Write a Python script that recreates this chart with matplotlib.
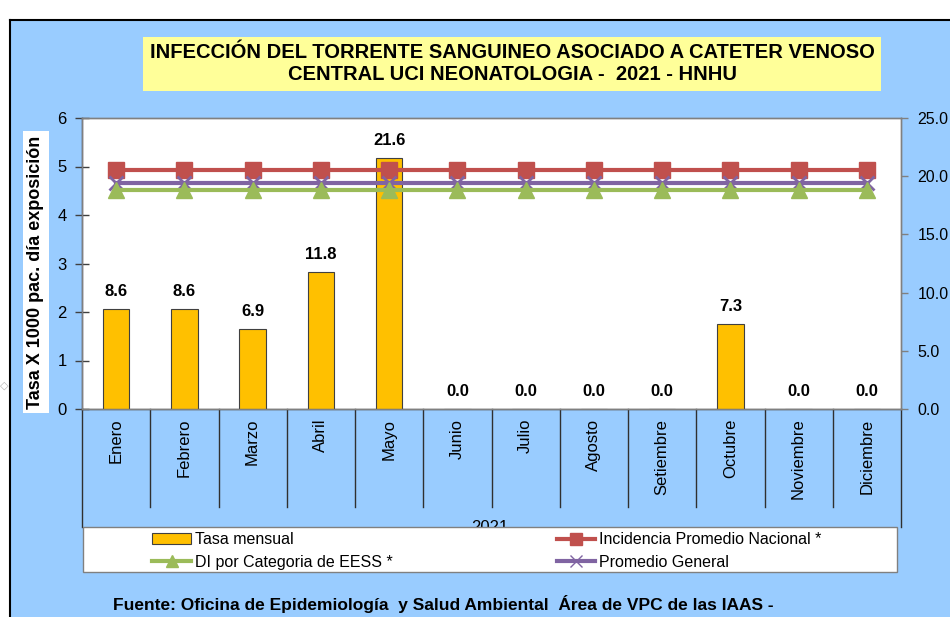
import matplotlib
matplotlib.use("Agg")
import matplotlib.pyplot as plt
from matplotlib.patches import Rectangle, Patch
from matplotlib.lines import Line2D
import matplotlib.transforms as mtransforms

plt.rcParams['font.family'] = ['Liberation Sans', 'DejaVu Sans']

# Datos mensuales 2021
meses = ['Enero', 'Febrero', 'Marzo', 'Abril', 'Mayo', 'Junio', 'Julio',
         'Agosto', 'Setiembre', 'Octubre', 'Noviembre', 'Diciembre']
tasa_mensual = [8.6, 8.6, 6.9, 11.8, 21.6, 0.0, 0.0, 0.0, 0.0, 7.3, 0.0, 0.0]
incidencia_nacional = [20.5] * 12
di_categoria = [18.8] * 12
promedio_general = [19.4] * 12

left_ticks = [0, 1, 2, 3, 4, 5, 6]
right_ticks = [0, 5, 10, 15, 20, 25]

BLUE_BG = '#99CCFF'
BAR_COL = '#FFC000'
RED = '#C0504D'
GREEN = '#9BBB59'
PURPLE = '#8064A2'

W, H = 950, 617
fig = plt.figure(figsize=(W / 100, H / 100), dpi=100)
fig.patch.set_facecolor('white')

def fx(px):
    return px / W

def fy(py):
    return 1 - py / H

# fondo celeste con borde negro arriba e izquierda
fig.patches.append(Rectangle((fx(10), 0), 1 - fx(10), fy(20), transform=fig.transFigure,
                             facecolor=BLUE_BG, edgecolor='none', zorder=-5))
fig.add_artist(Line2D([fx(10), 1], [fy(20), fy(20)], color='black', lw=1.5))
fig.add_artist(Line2D([fx(10), fx(10)], [0, fy(20)], color='black', lw=1.5))
fig.text(fx(4), fy(386), '\u25c7', fontsize=8, color='#b0b0b0', ha='center', va='center')

ax = fig.add_axes([fx(82), fy(409), fx(901) - fx(82), fy(118) - fy(409)])
ax.set_facecolor('white')
ax2 = ax.twinx()

x = list(range(len(meses)))

# barras y lineas sobre el eje derecho (0-25)
bars = ax2.bar(x, tasa_mensual, width=0.39, color=BAR_COL, edgecolor='#404040', linewidth=0.8, zorder=2)
ax2.plot(x, incidencia_nacional, color=RED, lw=3, marker='s', ms=11, zorder=3)
ax2.plot(x, promedio_general, color=PURPLE, lw=3, marker='x', ms=10, mew=2, zorder=3)
ax2.plot(x, di_categoria, color=GREEN, lw=3, marker='^', ms=11, zorder=3)

for xi, v in zip(x, tasa_mensual):
    ax2.annotate('%.1f' % v, (xi, v), xytext=(0, 7), textcoords='offset points',
                 ha='center', va='bottom', fontsize=12, fontweight='bold')

ax.set_xlim(-0.5, 11.5)
ax.set_ylim(0, 6)
ax2.set_ylim(0, 25)
ax.set_yticks(left_ticks)
ax.set_yticklabels([str(t) for t in left_ticks], fontsize=12)
ax2.set_yticks(right_ticks)
ax2.set_yticklabels(['%.1f' % t for t in right_ticks], fontsize=11.5)
ax.tick_params(axis='y', direction='inout', length=10, width=1, pad=6, color='#404040')
ax2.tick_params(axis='y', direction='out', length=5, width=1, pad=7, color='#808080')

ax.set_xticks(x)
ax.set_xticklabels(meses, rotation=90, fontsize=12, va='top')
ax.tick_params(axis='x', length=0, pad=7)

for a in (ax, ax2):
    for s in a.spines.values():
        s.set_color('#808080')
        s.set_linewidth(1)
ax.spines['left'].set_color('#404060')
ax.spines['bottom'].set_color('#404040')

# separadores de categorias bajo el eje
trans = mtransforms.blended_transform_factory(ax.transData, ax.transAxes)
axis_h = 409 - 118
for b in range(1, 12):
    ax.plot([b - 0.5, b - 0.5], [0, -(507 - 409) / axis_h], transform=trans,
            color='#303030', lw=1, clip_on=False)
for b in (-0.5, 11.5):
    ax.plot([b, b], [0, -(527 - 409) / axis_h], transform=trans,
            color='#303030', lw=1, clip_on=False)

fig.text(fx(490), fy(527), '2021', fontsize=12, ha='center', va='center', zorder=1)

# titulo del eje izquierdo con fondo blanco
fig.text(fx(36), fy(272), 'Tasa X 1000 pac. día exposición', rotation=90,
         fontsize=13, fontweight='bold', ha='center', va='center',
         bbox=dict(facecolor='white', edgecolor='none', pad=3))

# titulo
fig.text(fx(512), fy(64), 'INFECCIÓN DEL TORRENTE SANGUINEO ASOCIADO A CATETER VENOSO\n'
         'CENTRAL UCI NEONATOLOGIA -  2021 - HNHU', ha='center', va='center',
         fontsize=14.5, fontweight='bold', linespacing=1.2,
         bbox=dict(facecolor='#FFFF99', edgecolor='none', pad=5))

# leyenda
fig.patches.append(Rectangle((fx(83), fy(572)), fx(897) - fx(83), fy(527) - fy(572),
                             transform=fig.transFigure, facecolor='white',
                             edgecolor='#808080', lw=1, zorder=5))
handles = [
    Patch(facecolor=BAR_COL, edgecolor='#404040', lw=0.8),
    Line2D([], [], color=GREEN, lw=3, marker='^', ms=8),
    Line2D([], [], color=RED, lw=3, marker='s', ms=8),
    Line2D([], [], color=PURPLE, lw=3, marker='x', ms=8, mew=1),
]
labels = ['Tasa mensual', 'DI por Categoria de EESS *',
          'Incidencia Promedio Nacional *', 'Promedio General']
leg = fig.legend(handles, labels, ncol=2, loc='upper left',
                 bbox_to_anchor=(fx(146), fy(526)), frameon=False, fontsize=11.5,
                 handlelength=2.4, handletextpad=0.25, columnspacing=10.3,
                 labelspacing=0.45, borderaxespad=0)
leg.set_zorder(6)

fig.text(fx(113), fy(604), 'Fuente: Oficina de Epidemiología  y Salud Ambiental  Área de VPC de las IAAS -',
         fontsize=12.5, fontweight='bold', ha='left', va='center')

fig.savefig('out.png', dpi=100, facecolor=fig.get_facecolor())
